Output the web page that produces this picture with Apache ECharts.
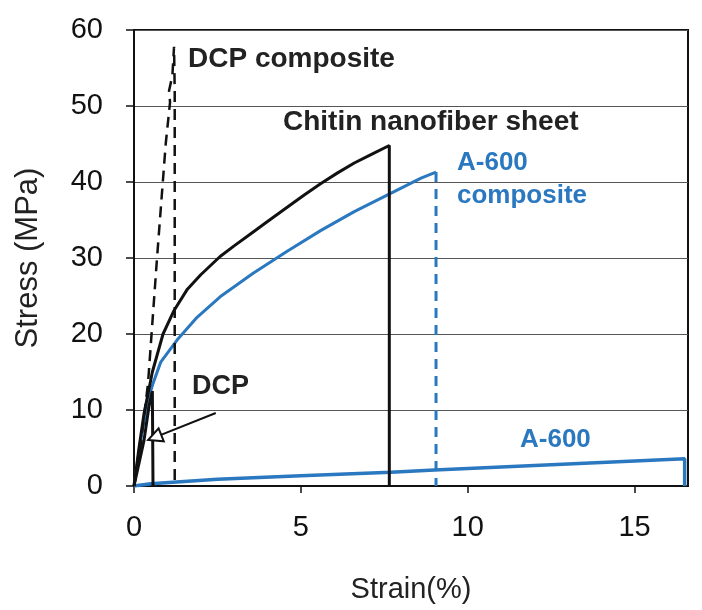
<!DOCTYPE html>
<html><head><meta charset="utf-8">
<script src="https://cdn.jsdelivr.net/npm/echarts@6/dist/echarts.min.js"></script>
<style>html,body{margin:0;padding:0;background:#fff}#c{width:702px;height:610px}</style>
</head><body><div id="c"></div>
<script>
// Strain (%) , Stress (MPa)
const chitinSheet = [[0,0],[0.15,5],[0.3,9.5],[0.55,15],[0.87,20],[1.2,23.1],[1.6,25.9],[2.0,27.8],[2.58,30.2],[3.0,31.6],[3.5,33.2],[4.0,34.8],[4.6,36.7],[5.1,38.3],[5.6,39.8],[6.1,41.2],[6.6,42.5],[7.1,43.6],[7.65,44.8],[7.65,0]];
const a600CompositeCurve = [[0,0],[0.2,6],[0.4,11],[0.57,13.5],[0.8,16.3],[1.29,19.2],[1.89,22.2],[2.58,24.9],[3.57,28],[4.59,30.9],[5.59,33.6],[6.6,36.1],[7.69,38.5],[8.6,40.5],[9.05,41.3]];
const a600CompositeDrop = [[9.05,41.3],[9.05,0]];
const dcpComposite = [[0,0],[0.18,4.7],[0.42,13.5],[0.69,30],[0.95,45],[1.08,50.5],[1.05,52],[1.15,54],[1.2,57.8],[1.22,52],[1.22,0]];
const dcp = [[0,0],[0.3,6],[0.45,10.5],[0.55,12.5],[0.57,0]];
const a600 = [[0,0],[0.5,0.3],[2.5,0.9],[5,1.35],[7.7,1.8],[9,2.1],[12,2.7],[14.5,3.2],[16.5,3.6],[16.5,0]];
const xTicks = [0,5,10,15];
const yTicks = [0,10,20,30,40,50,60];
const dcpArrow = [[2.45,9.6],[0.62,6.4]];

const BLUE = '#2a78bf';
const FONT = 'Liberation Sans';
const chart = echarts.init(document.getElementById('c'));
const lineSeries = (name, data, color, type, width) => ({
  name, type: 'line', data, showSymbol: false, symbol: 'none', animation: false,
  lineStyle: {color, width, type}, z: 3
});
chart.setOption({
  animation: false,
  grid: {left: 134, top: 30, width: 554, height: 456, show: true, borderColor: '#111', borderWidth: 2, backgroundColor: 'transparent'},
  xAxis: {
    type: 'value', min: 0, max: 16.6, interval: 5,
    name: 'Strain(%)', nameLocation: 'middle', nameGap: 89,
    nameTextStyle: {fontFamily: FONT, fontSize: 29, color: '#222'},
    axisLine: {show: true, lineStyle: {color: '#111', width: 2}},
    axisTick: {show: true, inside: false, length: 7, lineStyle: {color: '#111', width: 1.5}, customValues: xTicks},
    axisLabel: {margin: 27, fontFamily: FONT, fontSize: 29, color: '#111', customValues: xTicks},
    splitLine: {show: false}
  },
  yAxis: {
    type: 'value', min: 0, max: 60, interval: 10,
    name: 'Stress (MPa)', nameLocation: 'middle', nameGap: 90,
    nameTextStyle: {fontFamily: FONT, fontSize: 31, color: '#222'},
    axisLine: {show: true, lineStyle: {color: '#111', width: 2}},
    axisTick: {show: true, inside: false, length: 8, lineStyle: {color: '#111', width: 1.5}, customValues: yTicks},
    axisLabel: {margin: 31, fontFamily: FONT, fontSize: 29, color: '#111', customValues: yTicks},
    splitLine: {show: true, lineStyle: {color: '#555', width: 1}}
  },
  series: [
    lineSeries('A-600', a600, BLUE, 'solid', 3.5),
    lineSeries('A-600 composite', a600CompositeCurve, BLUE, 'solid', 3),
    lineSeries('A-600 composite drop', a600CompositeDrop, BLUE, [10, 7], 3),
    lineSeries('Chitin nanofiber sheet', chitinSheet, '#111', 'solid', 3),
    lineSeries('DCP composite', dcpComposite, '#111', [11, 7], 2.5),
    Object.assign(lineSeries('DCP', dcp, '#111', 'solid', 3), {
      markLine: {
        silent: true, animation: false,
        symbol: ['none', 'emptyTriangle'], symbolSize: [14, 14],
        lineStyle: {color: '#111', width: 2, type: 'solid'},
        label: {show: false},
        data: [[{coord: dcpArrow[0]}, {coord: dcpArrow[1]}]]
      }
    })
  ],
  graphic: [
    {type: 'text', left: 188, top: 45, style: {text: 'DCP composite', font: 'bold 28px "Liberation Sans"', fill: '#222'}},
    {type: 'text', left: 283, top: 108, style: {text: 'Chitin nanofiber sheet', font: 'bold 28px "Liberation Sans"', fill: '#222'}},
    {type: 'text', left: 457, top: 150, style: {text: 'A-600', font: 'bold 26px "Liberation Sans"', fill: BLUE}},
    {type: 'text', left: 457, top: 183, style: {text: 'composite', font: 'bold 26px "Liberation Sans"', fill: BLUE}},
    {type: 'text', left: 192, top: 373, style: {text: 'DCP', font: 'bold 27px "Liberation Sans"', fill: '#222'}},
    {type: 'text', left: 520, top: 427, style: {text: 'A-600', font: 'bold 26px "Liberation Sans"', fill: BLUE}}
  ]
});
</script></body></html>
